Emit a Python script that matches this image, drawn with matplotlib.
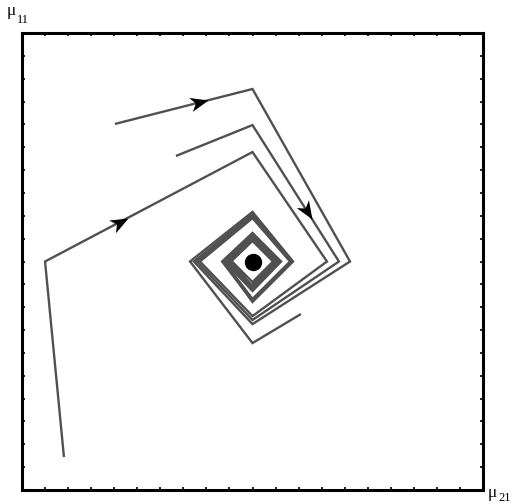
import matplotlib
matplotlib.use("Agg")
import matplotlib.pyplot as plt
import numpy as np
from matplotlib.path import Path
from matplotlib.markers import MarkerStyle
from matplotlib.transforms import Affine2D

# trajectories in the (mu21, mu11) plane, equilibrium at (0, 0)
traj_a_x = [-8.18, -9.00, 0.00, 3.23, 0.00, -2.28, 0.00, 1.63, 0.00, -1.24, 0.00, 1.11, 0.00, -1.15, 0.00, 1.02, 0.00, -1.02, 0.00, 0.95]
traj_a_y = [-8.56, 0.00, 4.79, 0.00, -2.39, 0.00, 1.90, 0.00, -1.64, 0.00, 1.12, 0.00, -1.16, 0.00, 1.03, 0.00, -1.07, 0.00, 0.94, 0.00]

traj_b_x = [-3.32, 0.00, 3.75, 0.00, -2.41, 0.00, 1.67, 0.00, -1.28, 0.00, 1.15, 0.00, -1.17, 0.00, 1.06, 0.00, -1.06, 0.00, 0.98, 0.00]
traj_b_y = [4.62, 5.97, 0.00, -2.56, 0.00, 1.99, 0.00, -1.68, 0.00, 1.16, 0.00, -1.20, 0.00, 1.07, 0.00, -1.12, 0.00, 0.98, 0.00, -0.98]

traj_c_x = [-5.97, 0.00, 4.23, 0.00, -2.54, 0.00, 1.71, 0.00, -1.32, 0.00, 1.24, 0.00, -1.21, 0.00, 1.11, 0.00, -1.11, 0.00, 1.02, 0.00]
traj_c_y = [6.02, 7.55, 0.00, -2.74, 0.00, 2.08, 0.00, -1.73, 0.00, 1.25, 0.00, -1.29, 0.00, 1.12, 0.00, -1.16, 0.00, 1.03, 0.00, -1.03]

traj_d_x = [2.10, 0.00, -2.71, 0.00, 1.76, 0.00, -1.28, 0.00, 1.19, 0.00, -1.19, 0.00, 1.06, 0.00, -0.93, 0.00, 0.89, 0.00, -0.89]
traj_d_y = [-2.30, -3.57, 0.00, 2.17, 0.00, -1.77, 0.00, 1.20, 0.00, -1.25, 0.00, 1.09, 0.00, -1.12, 0.00, 0.90, 0.00, -0.90, 0.00]

# arrows: (trajectory, segment index, fraction along segment)
arrows = [("a", 1, 0.40), ("c", 0, 0.68), ("b", 1, 0.69)]

eq_x, eq_y = 0.0, 0.0

fig = plt.figure(figsize=(5.15, 5.04), dpi=100)
ax = fig.add_axes([22/515, 14/504, 461/515, 457/504])
ax.set_xlim(-10, 10)
ax.set_ylim(-10, 10)

trajs = {"a": (traj_a_x, traj_a_y), "b": (traj_b_x, traj_b_y),
         "c": (traj_c_x, traj_c_y), "d": (traj_d_x, traj_d_y)}
for k in trajs:
    ax.plot(trajs[k][0], trajs[k][1], color="#505050", lw=1.7,
            solid_joinstyle="miter", solid_capstyle="butt")

ax.plot(eq_x, eq_y, "o", color="k", ms=11.5)

head = Path([(0, 0), (-1, 0.4), (-0.72, 0), (-1, -0.4), (0, 0)],
            [Path.MOVETO, Path.LINETO, Path.LINETO, Path.LINETO, Path.CLOSEPOLY])
for k, i, t in arrows:
    xs, ys = trajs[k]
    p0 = np.array([xs[i], ys[i]])
    p1 = np.array([xs[i+1], ys[i+1]])
    tip = p0 + t*(p1 - p0)
    d0 = ax.transData.transform(p0)
    d1 = ax.transData.transform(p1)
    ang = np.degrees(np.arctan2(d1[1]-d0[1], d1[0]-d0[0]))
    m = MarkerStyle(head, transform=Affine2D().rotate_deg(ang))
    ax.plot(tip[0], tip[1], marker=m, color="k", ms=26, mew=0, ls="none")

ax.set_xticks(np.arange(-9, 10, 1))
ax.set_yticks(np.arange(-9, 10, 1))
ax.set_xticklabels([])
ax.set_yticklabels([])
ax.tick_params(direction="in", length=2.5, width=1.2, top=True, right=True)
for s in ax.spines.values():
    s.set_linewidth(2.2)

fig.text(7/515, 1-15/504, "μ", fontsize=12.5, family="Liberation Serif", va="baseline")
fig.text(17/515, 1-23/504, "11", fontsize=9, family="Liberation Serif", va="baseline")
fig.text(488/515, 1-497/504, "μ", fontsize=12.5, family="Liberation Serif", va="baseline")
fig.text(498/515, 1-501/504, "21", fontsize=9, family="Liberation Serif", va="baseline")

fig.savefig("out.png", dpi=100)
